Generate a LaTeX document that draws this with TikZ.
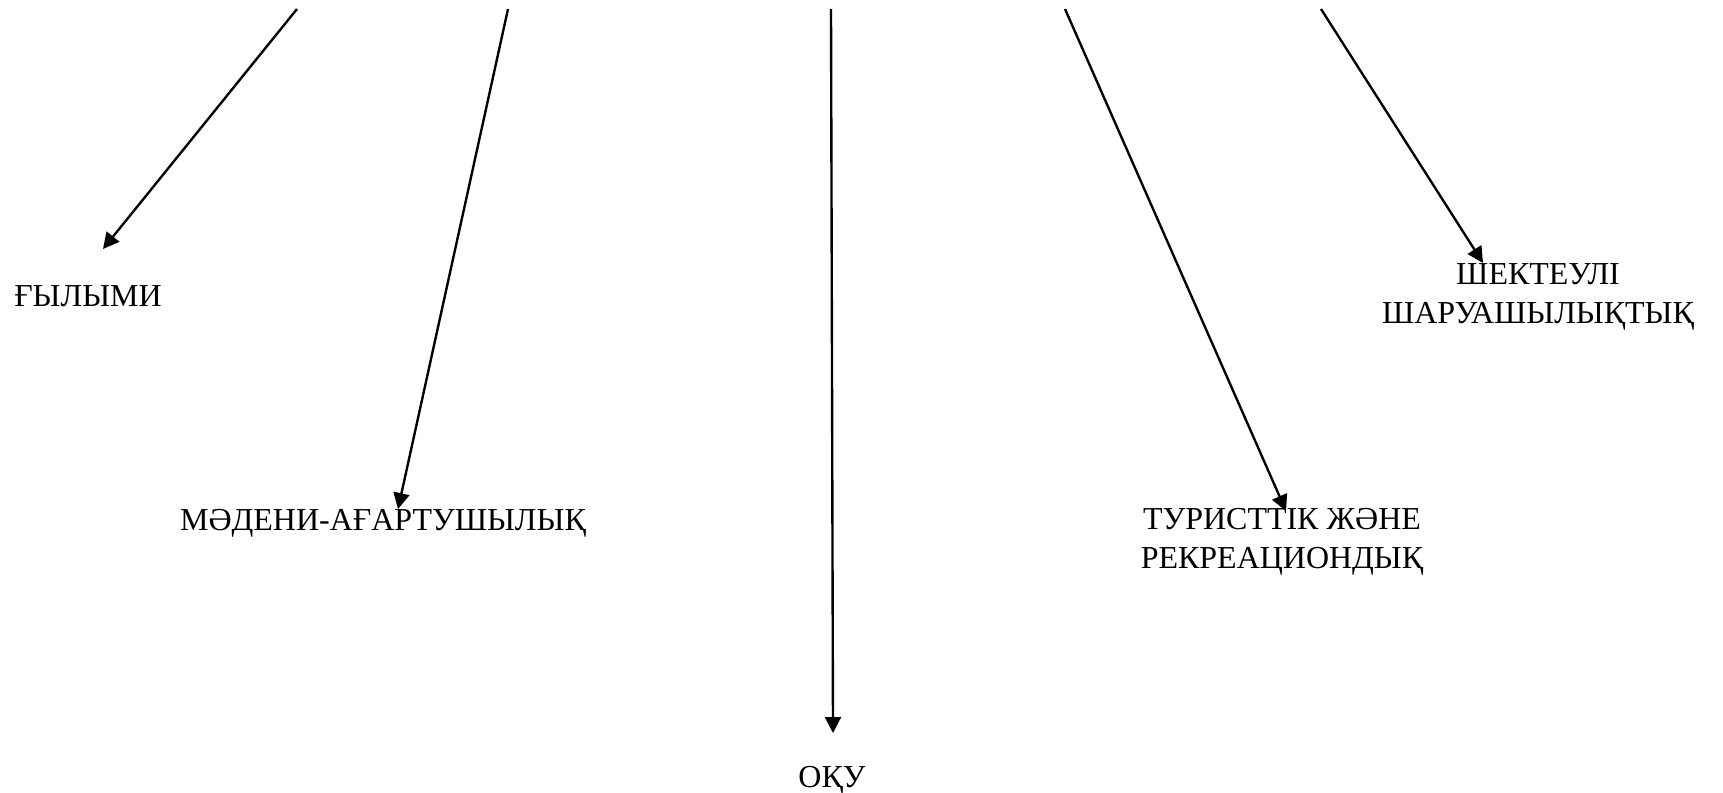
\documentclass[tikz,border=0pt]{standalone}
\usepackage{fontspec}
\setmainfont{Liberation Serif}
\usetikzlibrary{arrows.meta,positioning}
\tikzset{
  kindlabel/.style={
    font=\fontsize{18.2}{21.9}\selectfont, align=center,
    inner sep=0pt, anchor=base
  },
  linkarrow/.style={
    -{Triangle[length=0.32cm,width=0.32cm]}, line width=1.35pt, color=black
  },
}

\begin{document}
\begin{tikzpicture}[x=0.02cm,y=-0.02cm]
  \useasboundingbox (0,0) rectangle (1723,792);

  % arrow starts along the top edge
  \coordinate (s1) at (297,9);
  \coordinate (s2) at (508,9);
  \coordinate (s3) at (831,9);
  \coordinate (s4) at (1065,9);
  \coordinate (s5) at (1321,9);

  % labels (base = last line)
  \node[kindlabel] (fylymi) at (88,306) {ҒЫЛЫМИ};
  \node[kindlabel] (madeni) at (383,530) {МӘДЕНИ-АҒАРТУШЫЛЫҚ};
  \node[kindlabel] (oqu) at (832,787) {ОҚУ};
  \node[kindlabel] (turist) at (1282,568) {ТУРИСТТІК ЖӘНЕ\\РЕКРЕАЦИОНДЫҚ};
  \node[kindlabel] (sharua) at (1538,323) {ШЕКТЕУЛІ\\ШАРУАШЫЛЫҚТЫҚ};

  % arrow tips
  \coordinate (t1) at (103,249);
  \coordinate (t2) at (398,509);
  \coordinate (t3) at (833,733);
  \coordinate (t4) at (1286,511);
  \coordinate (t5) at (1483,263);

  \draw[linkarrow] (s1) -- (t1);
  \draw[linkarrow] (s2) -- (t2);
  \draw[linkarrow] (s3) -- (t3);
  \draw[linkarrow] (s4) -- (t4);
  \draw[linkarrow] (s5) -- (t5);
\end{tikzpicture}
\end{document}
